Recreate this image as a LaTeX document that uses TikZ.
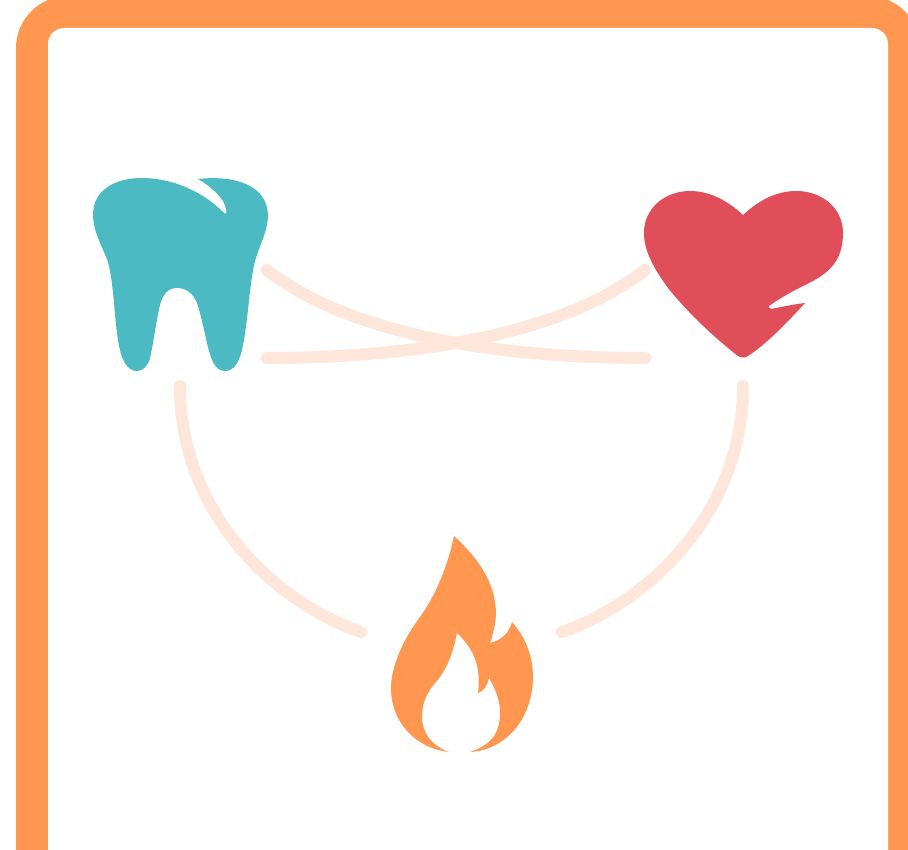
\documentclass[tikz,border=0pt]{standalone}
\usepackage{xcolor}
\usetikzlibrary{positioning}
\definecolor{frame}{HTML}{FF9750}
\definecolor{tooth}{HTML}{4BBAC3}
\definecolor{heart}{HTML}{E04E59}
\definecolor{link}{HTML}{FEE7DA}
\tikzset{linkline/.style={draw=link,line width=12pt,line cap=round}}

\begin{document}
\begin{tikzpicture}[x=1pt,y=-1pt]
\useasboundingbox (0,0) rectangle (908,850);
\clip (0,0) rectangle (908,850);
% frame
\fill[frame,rounded corners=52pt] (16,-4) rectangle (920,900);
\fill[white,rounded corners=16pt] (48,28) rectangle (888,900);
% tooth
\fill[tooth] (198,179) .. controls (235,175) and (267,185) .. (268,215)
   .. controls (268,232) and (258,248) .. (254,265)
   .. controls (249,290) and (248,320) .. (243,345)
   .. controls (240,362) and (234,371) .. (225,371)
   .. controls (215,371) and (211,360) .. (207,343)
   .. controls (203,325) and (200,312) .. (197,303)
   .. controls (193,293) and (186,288) .. (177,288)
   .. controls (168,288) and (163,294) .. (160,305)
   .. controls (156,322) and (154,340) .. (150,358)
   .. controls (148,366) and (143,371) .. (137,371)
   .. controls (127,371) and (121,360) .. (118,340)
   .. controls (114,315) and (114,285) .. (108,262)
   .. controls (104,250) and (93,232) .. (93,215)
   .. controls (93,190) and (115,178) .. (142,178)
   .. controls (170,178) and (202,190) .. (225,214)
   .. controls (228,214) and (226,205) .. (221,198)
   .. controls (215,191) and (207,184) .. (198,179) -- cycle;
% heart
\fill[heart] (743,215) .. controls (758,201) and (776,191) .. (796,191)
   .. controls (822,191) and (843,208) .. (843,233)
   .. controls (843,262) and (828,274) .. (805,285)
   .. controls (793,291) and (780,298) .. (769,306)
   .. controls (768,309) and (772,309) .. (776,308)
   .. controls (786,306) and (796,304) .. (805,303)
   .. controls (785,325) and (765,345) .. (748,356)
   .. controls (745,358) and (741,358) .. (738,356)
   .. controls (715,338) and (690,315) .. (668,288)
   .. controls (655,270) and (644,252) .. (644,233)
   .. controls (644,208) and (665,191) .. (690,191)
   .. controls (710,191) and (728,201) .. (743,215) -- cycle;
% flame
\fill[frame] (454,536) .. controls (478,558) and (495,582) .. (496,612)
   .. controls (496,624) and (493,634) .. (490,643)
   .. controls (502,640) and (509,633) .. (512,622)
   .. controls (525,637) and (533,655) .. (533,678)
   .. controls (532,720) and (505,750) .. (470,752)
   .. controls (490,745) and (500,735) .. (500,712)
   .. controls (500,700) and (495,688) .. (489,678)
   .. controls (487,686) and (484,691) .. (478,693)
   .. controls (481,668) and (475,650) .. (457,633)
   .. controls (453,652) and (448,668) .. (436,682)
   .. controls (427,692) and (422,703) .. (422,717)
   .. controls (422,733) and (432,746) .. (449,752)
   .. controls (415,748) and (391,722) .. (391,688)
   .. controls (391,665) and (405,637) .. (420,617)
   .. controls (436,595) and (448,565) .. (454,536) -- cycle;
% links
\coordinate (toothUp) at (267,270);
\coordinate (toothLow) at (267,358);
\coordinate (heartUp) at (645,270);
\coordinate (heartLow) at (645,358);
\coordinate (toothBase) at (180,386);
\coordinate (heartBase) at (743,386);
\coordinate (flameLeft) at (361,632);
\coordinate (flameRight) at (562,632);
\draw[linkline] (toothUp) .. controls (350,335) and (500,358) .. (heartLow);
\draw[linkline] (heartUp) .. controls (562,335) and (412,358) .. (toothLow);
\draw[linkline] (toothBase) .. controls (180,510) and (270,600) .. (flameLeft);
\draw[linkline] (heartBase) .. controls (743,510) and (653,600) .. (flameRight);
\end{tikzpicture}
\end{document}
